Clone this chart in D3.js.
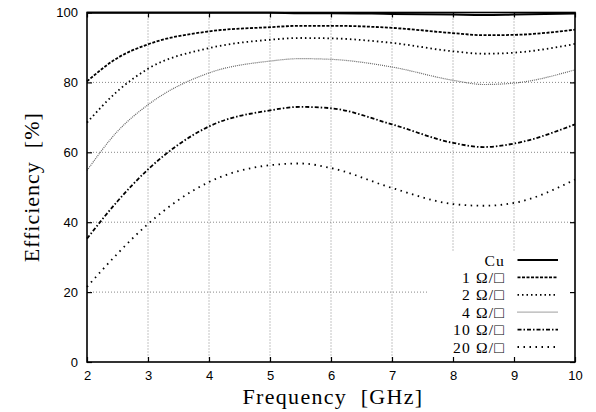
<!DOCTYPE html>
<html>
<head>
<meta charset="utf-8">
<script src="https://cdn.jsdelivr.net/npm/d3@7"></script>
<style>
    body { margin: 0; background: #fff; }
    .tick text { font-family: "Liberation Sans", Arial, sans-serif; font-size: 13px; }
    .serif { font-family: "Liberation Serif", "Times New Roman", serif; }
</style>
</head>
<body>
<div id="plot"></div>
<script>
// frequency points (GHz)
var freq = [2, 2.5, 3, 4, 5, 5.5, 6, 7, 8, 8.5, 9, 10];

// efficiency [%] per sheet resistance
var cu    = [99.9, 99.9, 99.9, 99.9, 99.9, 99.8, 99.8, 99.6, 99.4, 99.3, 99.4, 99.7];
var ohm1  = [80.3, 87.0, 90.9, 94.6, 95.8, 96.2, 96.2, 95.6, 94.1, 93.5, 93.6, 95.1];
var ohm2  = [68.5, 77.5, 83.9, 89.8, 92.2, 92.7, 92.6, 91.3, 88.9, 88.2, 88.5, 91.0];
var ohm4  = [54.8, 66.0, 73.6, 82.7, 86.1, 86.8, 86.6, 84.4, 80.6, 79.4, 79.8, 83.6];
var ohm10 = [35.3, 46.0, 55.1, 67.4, 72.0, 73.0, 72.6, 68.0, 62.7, 61.5, 62.5, 68.0];
var ohm20 = [21.5, 31.0, 39.5, 51.5, 56.3, 56.8, 55.5, 49.8, 45.2, 44.7, 45.5, 52.2];

var seriesNames = ["Cu", "1 \u03A9/\u25A1", "2 \u03A9/\u25A1", "4 \u03A9/\u25A1", "10 \u03A9/\u25A1", "20 \u03A9/\u25A1"];
var seriesData = [cu, ohm1, ohm2, ohm4, ohm10, ohm20];

var xTicks = [2, 3, 4, 5, 6, 7, 8, 9, 10];
var yTicks = [0, 20, 40, 60, 80, 100];

// line styles, one per series
var styles = [
    {dash: null,          width: 2,   color: "#000"},
    {dash: "3,1.5",       width: 1.8, color: "#000"},
    {dash: "1.5,3",       width: 1.8, color: "#000"},
    {dash: "1,1",         width: 1.2, color: "#666"},
    {dash: "4,2,1.5,2",   width: 1.8, color: "#000"},
    {dash: "1.5,4.5",     width: 1.8, color: "#000"}
];

var pwidth = 596;
var pheight = 412;
var margin = {top: 12.5, right: 21, bottom: 50, left: 87}
    , width = pwidth - margin.left - margin.right
    , height = pheight - margin.top - margin.bottom;

var xScale = d3.scaleLinear()
    .domain([2, 10])
    .range([0, width]);

var yScale = d3.scaleLinear()
    .domain([0, 100])
    .range([height, 0]);

var line = d3.line()
    .x(function(d) { return xScale(d.x); })
    .y(function(d) { return yScale(d.y); })
    .curve(d3.curveMonotoneX);

var svg = d3.select("#plot").append("svg")
    .attr("width", pwidth)
    .attr("height", pheight)
    .append("g")
    .attr("transform", "translate(" + margin.left + "," + margin.top + ")");

// grid (dotted gray)
svg.append("g").selectAll("line")
    .data(xTicks.slice(1, -1))
    .enter().append("line")
    .attr("x1", function(d) { return xScale(d); })
    .attr("x2", function(d) { return xScale(d); })
    .attr("y1", 0).attr("y2", height)
    .attr("stroke", "#888").attr("stroke-width", 1)
    .attr("stroke-dasharray", "1,2");

svg.append("g").selectAll("line")
    .data(yTicks.slice(1, -1))
    .enter().append("line")
    .attr("x1", 0).attr("x2", width)
    .attr("y1", function(d) { return yScale(d); })
    .attr("y2", function(d) { return yScale(d); })
    .attr("stroke", "#888").attr("stroke-width", 1)
    .attr("stroke-dasharray", "1,2");

// legend box hides the grid
var keyX = xScale(7.6);
var keyY = yScale(31.5);
svg.append("rect")
    .attr("x", keyX).attr("y", keyY)
    .attr("width", width - keyX).attr("height", height - keyY)
    .attr("fill", "#fff");

// curves
for (var s = 0; s < seriesData.length; s++) {
    var dataset = [];
    for (var i = 0; i < freq.length; i++) {
        dataset.push({x: freq[i], y: seriesData[s][i]});
    }
    svg.append("path")
        .datum(dataset)
        .attr("fill", "none")
        .attr("stroke", styles[s].color)
        .attr("stroke-width", styles[s].width)
        .attr("stroke-dasharray", styles[s].dash)
        .attr("d", line);
}

// axes, ticks pointing inwards
svg.append("g")
    .attr("transform", "translate(0," + height + ")")
    .call(d3.axisBottom(xScale).tickValues(xTicks).tickSize(-5).tickPadding(9));
svg.append("g")
    .call(d3.axisTop(xScale).tickValues(xTicks).tickSize(-5).tickFormat(""));
svg.append("g")
    .call(d3.axisLeft(yScale).tickValues(yTicks).tickSize(-5).tickPadding(9));
svg.append("g")
    .attr("transform", "translate(" + width + ",0)")
    .call(d3.axisRight(yScale).tickValues(yTicks).tickSize(-5).tickFormat(""));

svg.selectAll(".domain").remove();
svg.selectAll(".tick line").attr("stroke", "#000").attr("stroke-width", 1.2);
svg.selectAll(".tick text").attr("fill", "#000");

// frame
svg.append("rect")
    .attr("width", width).attr("height", height)
    .attr("fill", "none").attr("stroke", "#000").attr("stroke-width", 1.6);

// legend
var key = svg.append("g")
    .attr("class", "serif")
    .style("font-size", "15.6px")
    .style("letter-spacing", "1.2px");
for (var k = 0; k < seriesNames.length; k++) {
    var ky = 247.5 + k * 17.4;
    key.append("text")
        .attr("x", 418).attr("y", ky + 5.5)
        .attr("text-anchor", "end")
        .text(seriesNames[k]);
    key.append("line")
        .attr("x1", 430.5).attr("x2", 471)
        .attr("y1", ky).attr("y2", ky)
        .attr("stroke", styles[k].color)
        .attr("stroke-width", styles[k].width)
        .attr("stroke-dasharray", styles[k].dash);
}

// axis titles
svg.append("text")
    .attr("class", "serif")
    .attr("x", width / 2 + 2).attr("y", height + 41.5)
    .attr("text-anchor", "middle")
    .style("font-size", "22px")
    .style("letter-spacing", "1.3px")
    .text("Frequency\u00A0 [GHz]");

svg.append("text")
    .attr("class", "serif")
    .attr("transform", "translate(" + (-48) + "," + (height / 2) + ") rotate(-90)")
    .attr("text-anchor", "middle")
    .style("font-size", "22px")
    .style("letter-spacing", "1px")
    .text("Efficiency\u00A0 [%]");
</script>
</body>
</html>
